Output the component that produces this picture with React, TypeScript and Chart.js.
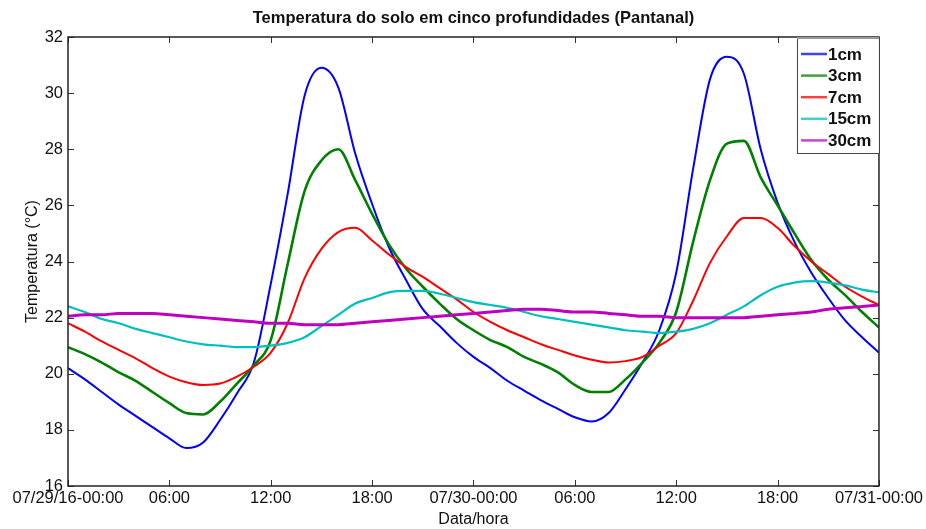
import React, { useEffect, useRef } from "react";
import { Chart, registerables } from "chart.js";

Chart.register(...registerables);

// Hours since 07/29/16 00:00
const hours = [
  0, 1, 2, 3, 4, 5, 6, 7, 8, 9, 10, 11, 12, 13, 14, 15, 16, 17, 18, 19, 20, 21, 22, 23, 24,
  25, 26, 27, 28, 29, 30, 31, 32, 33, 34, 35, 36, 37, 38, 39, 40, 41, 42, 43, 44, 45, 46, 47, 48,
];

const xTickLabels = [
  "07/29/16-00:00", "06:00", "12:00", "18:00", "07/30-00:00", "06:00", "12:00", "18:00", "07/31-00:00",
];

const seriesNames = ["1cm", "3cm", "7cm", "15cm", "30cm"];

const chartTitle = "Temperatura do solo em cinco profundidades (Pantanal)";

const temp1cm = [
  20.2, 19.8, 19.35, 18.9, 18.5, 18.1, 17.7, 17.35, 17.55, 18.35, 19.3, 20.4, 23.2, 26.4, 29.9, 30.9,
  30.2, 27.85, 26.05, 24.5, 23.35, 22.3, 21.7, 21.1, 20.6, 20.2, 19.75, 19.4, 19.05, 18.75, 18.45,
  18.3, 18.6, 19.45, 20.4, 21.55, 23.6, 27.3, 30.5, 31.3, 30.7, 28.0, 26.1, 24.7, 23.6, 22.7, 21.9,
  21.3, 20.75,
];

const temp3cm = [
  20.95, 20.7, 20.4, 20.05, 19.75, 19.35, 18.95, 18.6, 18.55, 19.0, 19.65, 20.3, 21.2, 23.9, 26.5,
  27.6, 28.0, 26.9, 25.7, 24.6, 23.75, 23.1, 22.5, 21.95, 21.55, 21.2, 20.95, 20.6, 20.35, 20.05,
  19.6, 19.35, 19.35, 19.8, 20.4, 21.1, 22.2, 24.7, 26.9, 28.2, 28.3, 27.0, 26.0, 25.0, 24.05,
  23.35, 22.8, 22.2, 21.65,
];

const temp7cm = [
  21.8, 21.5, 21.15, 20.85, 20.55, 20.2, 19.9, 19.7, 19.6, 19.65, 19.9, 20.25, 20.75, 21.8, 23.4,
  24.45, 25.05, 25.2, 24.75, 24.25, 23.8, 23.45, 23.05, 22.65, 22.2, 21.85, 21.55, 21.3, 21.05,
  20.85, 20.65, 20.5, 20.4, 20.45, 20.6, 21.0, 21.45, 22.6, 23.95, 24.9, 25.55, 25.55, 25.2, 24.55,
  24.0, 23.55, 23.1, 22.75, 22.45,
];

const temp15cm = [
  22.4, 22.2, 21.95, 21.8, 21.6, 21.45, 21.3, 21.15, 21.05, 21.0, 20.95, 20.95, 21.0, 21.1, 21.3,
  21.7, 22.1, 22.5, 22.7, 22.9, 22.95, 22.95, 22.85, 22.7, 22.55, 22.45, 22.35, 22.2, 22.05, 21.95,
  21.85, 21.75, 21.65, 21.55, 21.5, 21.45, 21.5, 21.6, 21.8, 22.1, 22.4, 22.8, 23.1, 23.25, 23.3,
  23.25, 23.15, 23.0, 22.9,
];

const temp30cm = [
  22.05, 22.1, 22.1, 22.15, 22.15, 22.15, 22.1, 22.05, 22.0, 21.95, 21.9, 21.85, 21.8, 21.8, 21.75,
  21.75, 21.75, 21.8, 21.85, 21.9, 21.95, 22.0, 22.05, 22.1, 22.15, 22.2, 22.25, 22.3, 22.3, 22.25,
  22.2, 22.2, 22.15, 22.1, 22.05, 22.05, 22.0, 22.0, 22.0, 22.0, 22.0, 22.05, 22.1, 22.15, 22.2,
  22.3, 22.35, 22.4, 22.45,
];

const FONT = "'Liberation Sans', Arial, Helvetica, sans-serif";

const framePlugin = {
  id: "matlabFrame",
  afterDatasetsDraw(chart: any) {
    const { ctx, chartArea: a, scales } = chart;
    ctx.save();
    // inward ticks
    ctx.strokeStyle = "#333";
    ctx.lineWidth = 1;
    const tl = 6;
    scales.x.ticks.forEach((t: any) => {
      const px = Math.round(scales.x.getPixelForValue(t.value)) + 0.5;
      ctx.beginPath();
      ctx.moveTo(px, a.bottom);
      ctx.lineTo(px, a.bottom - tl);
      ctx.moveTo(px, a.top);
      ctx.lineTo(px, a.top + tl);
      ctx.stroke();
    });
    scales.y.ticks.forEach((t: any) => {
      const py = Math.round(scales.y.getPixelForValue(t.value)) + 0.5;
      ctx.beginPath();
      ctx.moveTo(a.left, py);
      ctx.lineTo(a.left + tl, py);
      ctx.moveTo(a.right, py);
      ctx.lineTo(a.right - tl, py);
      ctx.stroke();
    });
    // frame
    ctx.strokeStyle = "#222";
    ctx.lineWidth = 1.5;
    ctx.strokeRect(a.left, a.top, a.right - a.left, a.bottom - a.top);

    // title centred over the plot area
    ctx.fillStyle = "#111";
    ctx.font = `bold 16.5px ${FONT}`;
    ctx.textAlign = "center";
    ctx.textBaseline = "middle";
    ctx.fillText(chartTitle, (a.left + a.right) / 2, 18);

    // legend box (inside, top-right)
    const ds = chart.data.datasets;
    const bw = 82;
    const bh = 116;
    const bx = a.right - bw;
    const by = a.top;
    ctx.fillStyle = "#fff";
    ctx.fillRect(bx, by, bw, bh);
    ctx.strokeStyle = "#444";
    ctx.lineWidth = 1;
    ctx.strokeRect(bx + 0.5, by + 0.5, bw, bh);
    ctx.strokeStyle = "#999";
    ctx.lineWidth = 2;
    ctx.beginPath();
    ctx.moveTo(bx, by + 1);
    ctx.lineTo(bx + bw, by + 1);
    ctx.stroke();
    ctx.font = `bold 17px ${FONT}`;
    ctx.textBaseline = "middle";
    ctx.textAlign = "left";
    ds.forEach((d: any, i: number) => {
      const yy = by + 17 + i * 21.6;
      ctx.strokeStyle = d.borderColor;
      ctx.globalAlpha = 0.75;
      ctx.lineWidth = 2.5;
      ctx.beginPath();
      ctx.moveTo(bx + 4, yy);
      ctx.lineTo(bx + 30, yy);
      ctx.stroke();
      ctx.globalAlpha = 1;
      ctx.fillStyle = "#111";
      ctx.fillText(d.label, bx + 31, yy + 1);
    });
    ctx.restore();
  },
};

export default function App() {
  const ref = useRef<HTMLCanvasElement | null>(null);

  useEffect(() => {
    if (!ref.current) return;
    const series = [temp1cm, temp3cm, temp7cm, temp15cm, temp30cm];
    const colors = ["#0000ff", "#008000", "#ff0000", "#00bfbf", "#bf00bf"];
    const widths = [2, 2.6, 2, 2.2, 3];
    const datasets = series.map((vals, i) => ({
      label: seriesNames[i],
      data: hours.map((h, k) => ({ x: h, y: vals[k] })),
      borderColor: colors[i],
      backgroundColor: colors[i],
      borderWidth: widths[i],
      pointRadius: 0,
      cubicInterpolationMode: "monotone" as const,
      fill: false,
      order: series.length - i,
    }));

    const chart = new Chart(ref.current, {
      type: "line",
      data: { datasets },
      options: {
        animation: false,
        responsive: true,
        maintainAspectRatio: false,
        layout: { padding: { left: 0, right: 47, top: 37, bottom: 0 } },
        plugins: {
          legend: { display: false },
          tooltip: { enabled: false },
          title: { display: false },
        },
        scales: {
          x: {
            type: "linear",
            min: 0,
            max: 48,
            grid: { display: false, drawTicks: false },
            border: { display: false },
            ticks: {
              stepSize: 6,
              autoSkip: false,
              maxRotation: 0,
              padding: 3,
              color: "#111",
              font: { family: FONT, size: 16.5 },
              callback: (v: any) => xTickLabels[Math.round(Number(v) / 6)] ?? "",
            },
            title: {
              display: true,
              text: "Data/hora",
              color: "#111",
              font: { family: FONT, size: 16 },
              padding: { top: 0, bottom: 0 },
            },
            afterFit: (s: any) => {
              s.height = 43;
            },
          },
          y: {
            min: 16,
            max: 32,
            grid: { display: false, drawTicks: false },
            border: { display: false },
            ticks: {
              stepSize: 2,
              padding: 5,
              color: "#111",
              font: { family: FONT, size: 16.5 },
            },
            title: {
              display: true,
              text: "Temperatura (°C)",
              color: "#111",
              font: { family: FONT, size: 16 },
              padding: { top: 23, bottom: 0 },
            },
            afterFit: (s: any) => {
              s.width = 68;
            },
          },
        },
      },
      plugins: [framePlugin],
    });
    return () => chart.destroy();
  }, []);

  return (
    <div style={{ position: "fixed", left: 0, top: 0, width: 926, height: 529, background: "#fff" }}>
      <canvas ref={ref} />
    </div>
  );
}
